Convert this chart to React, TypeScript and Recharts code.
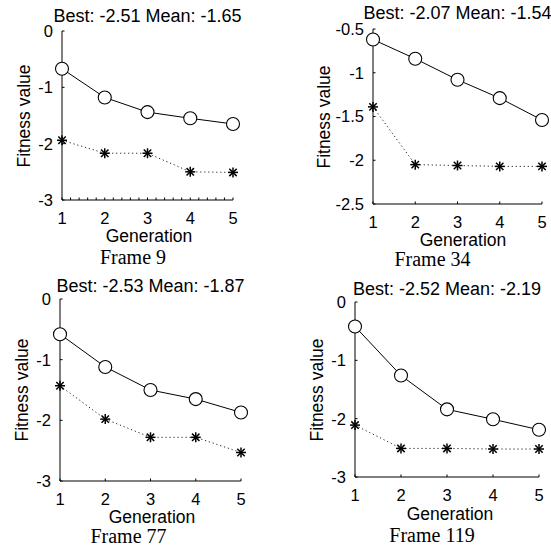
import { LineChart, Line, XAxis, YAxis } from 'recharts';

const generations = [1, 2, 3, 4, 5];
const minorGenTicks = [1, 1.2, 1.4, 1.6, 1.8, 2, 2.2, 2.4, 2.6, 2.8, 3, 3.2, 3.4, 3.6, 3.8, 4, 4.2, 4.4, 4.6, 4.8, 5];

const frame9Mean = [-0.67, -1.18, -1.44, -1.55, -1.65];
const frame9Best = [-1.94, -2.17, -2.17, -2.5, -2.51];
const frame34Mean = [-0.62, -0.84, -1.08, -1.29, -1.54];
const frame34Best = [-1.39, -2.05, -2.06, -2.07, -2.07];
const frame77Mean = [-0.58, -1.12, -1.5, -1.65, -1.87];
const frame77Best = [-1.43, -1.98, -2.28, -2.28, -2.53];
const frame119Mean = [-0.42, -1.26, -1.84, -2.01, -2.19];
const frame119Best = [-2.11, -2.51, -2.51, -2.52, -2.52];

const yTicksWide = [-3, -2, -1, 0];
const yTicksNarrow = [-2.5, -2, -1.5, -1, -0.5];

const SANS = '"Liberation Sans", Arial, sans-serif';
const SERIF = '"Liberation Serif", "Times New Roman", serif';

// small text helper: x = centre, y = baseline
function Txt({ x, y, size, serif, rotate, children }: any) {
  const asc = serif ? 0.8375 : 0.8465;
  const style: any = {
    position: 'absolute',
    left: x,
    top: rotate ? y : y - asc * size,
    fontSize: size,
    lineHeight: 1,
    fontFamily: serif ? SERIF : SANS,
    whiteSpace: 'nowrap',
    color: '#000',
    transform: rotate ? 'translate(-50%, -50%) rotate(-90deg)' : 'translateX(-50%)',
  };
  return <div style={style}>{children}</div>;
}

function XTick({ x, y, payload }: any) {
  const v = payload.value;
  if (!Number.isInteger(v)) return <g />;
  return (
    <text x={x} y={y} dy="0.72em" textAnchor="middle" fontSize={16.5} fontFamily={SANS} fill="#000">
      {v}
    </text>
  );
}

function YTick({ x, y, payload }: any) {
  return (
    <text x={x} y={y} dy="0.36em" textAnchor="end" fontSize={16.5} fontFamily={SANS} fill="#000">
      {payload.value}
    </text>
  );
}

function Star(props: any) {
  const { cx, cy, index } = props;
  if (cx == null || cy == null) return <g key={index} />;
  const a = 5;
  const d = 3.7;
  return (
    <g key={index} stroke="#000" strokeWidth={1.5}>
      <line x1={cx - a} y1={cy} x2={cx + a} y2={cy} />
      <line x1={cx} y1={cy - a} x2={cx} y2={cy + a} />
      <line x1={cx - d} y1={cy - d} x2={cx + d} y2={cy + d} />
      <line x1={cx - d} y1={cy + d} x2={cx + d} y2={cy - d} />
    </g>
  );
}

function Panel({ ox, oy, box, yDomain, yTicks, xTicks, mean, best, title, caption, layout }: any) {
  const size = 276;
  const data = generations.map((g, i) => ({ gen: g, mean: mean[i], best: best[i] }));
  const cx = (box.l + box.r) / 2;
  const cy = (box.t + box.b) / 2;
  return (
    <div style={{ position: 'absolute', left: ox, top: oy, width: size, height: size }}>
      <LineChart
        width={size}
        height={size}
        data={data}
        margin={{ top: box.t, right: size - box.r, bottom: size - box.b - 20, left: box.l - 40 }}
      >
        <XAxis
          dataKey="gen"
          type="number"
          domain={[1, 5]}
          ticks={xTicks}
          interval={0}
          height={20}
          tickSize={-2.5}
          tickMargin={14.5}
          stroke="#000"
          tick={<XTick />}
        />
        <YAxis
          type="number"
          domain={yDomain}
          ticks={yTicks}
          interval={0}
          width={40}
          tickSize={-2.5}
          tickMargin={11.5}
          stroke="#000"
          tick={<YTick />}
        />
        <Line
          dataKey="best"
          stroke="#222"
          strokeWidth={1}
          strokeDasharray="1.2 2.8"
          dot={Star}
          activeDot={false}
          isAnimationActive={false}
        />
        <Line
          dataKey="mean"
          stroke="#000"
          strokeWidth={1}
          dot={{ r: 6.5, stroke: '#000', strokeWidth: 1.1, fill: '#fff' }}
          activeDot={false}
          isAnimationActive={false}
        />
      </LineChart>
      <Txt x={cx} y={layout.titleY} size={18}>{title}</Txt>
      <Txt x={layout.ylabelX} y={cy} size={17.5} rotate>Fitness value</Txt>
      <Txt x={layout.genX} y={layout.genY} size={17.5}>Generation</Txt>
      <Txt x={layout.captionX} y={layout.captionY} size={20} serif>{caption}</Txt>
    </div>
  );
}

export default function App() {
  return (
    <div style={{ position: 'absolute', left: 0, top: 0, width: 551, height: 552, background: '#fff', overflow: 'hidden' }}>
      <Panel
        ox={0}
        oy={0}
        box={{ l: 62, t: 31, r: 233, b: 200 }}
        yDomain={[-3, 0]}
        yTicks={yTicksWide}
        xTicks={minorGenTicks}
        mean={frame9Mean}
        best={frame9Best}
        title="Best: -2.51 Mean: -1.65"
        caption="Frame 9"
        layout={{ titleY: 22, ylabelX: 24.5, genX: 149, genY: 243, captionX: 133, captionY: 263.5 }}
      />
      <Panel
        ox={275}
        oy={0}
        box={{ l: 98, t: 29, r: 267, b: 204 }}
        yDomain={[-2.5, -0.5]}
        yTicks={yTicksNarrow}
        xTicks={generations}
        mean={frame34Mean}
        best={frame34Best}
        title="Best: -2.07 Mean: -1.54"
        caption="Frame 34"
        layout={{ titleY: 19, ylabelX: 50, genX: 188, genY: 246.5, captionX: 157.5, captionY: 266 }}
      />
      <Panel
        ox={0}
        oy={276}
        box={{ l: 60, t: 23, r: 241, b: 205 }}
        yDomain={[-3, 0]}
        yTicks={yTicksWide}
        xTicks={generations}
        mean={frame77Mean}
        best={frame77Best}
        title="Best: -2.53 Mean: -1.87"
        caption="Frame 77"
        layout={{ titleY: 16, ylabelX: 22.5, genX: 152, genY: 247.5, captionX: 128.5, captionY: 267 }}
      />
      <Panel
        ox={275}
        oy={276}
        box={{ l: 80, t: 26, r: 264, b: 201 }}
        yDomain={[-3, 0]}
        yTicks={yTicksWide}
        xTicks={generations}
        mean={frame119Mean}
        best={frame119Best}
        title="Best: -2.52 Mean: -2.19"
        caption="Frame 119"
        layout={{ titleY: 19, ylabelX: 42.5, genX: 175, genY: 245, captionX: 157, captionY: 265.5 }}
      />
    </div>
  );
}
